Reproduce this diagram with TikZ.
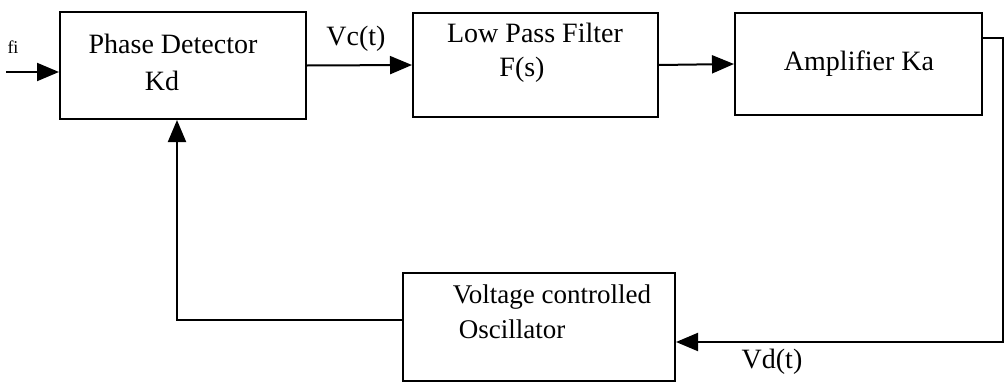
\documentclass[tikz,border=0pt]{standalone}
\usepackage{fontspec}
\setmainfont{Liberation Serif}
\usetikzlibrary{arrows.meta}
\begin{document}
\begin{tikzpicture}[x=1pt,y=-1pt,
  blk/.style={draw,line width=2pt,rectangle,inner sep=0pt},
  lbl/.style={inner sep=0pt,font=\fontsize{28}{30}\selectfont},
  wire/.style={line width=2pt},
  arr/.style={wire,-{Triangle[length=22pt,width=18pt]}}]
\useasboundingbox (0,0) rectangle (1005,383);
\node[blk,minimum width=246pt,minimum height=107pt] (pd) at (183,65.5) {};
\node[blk,minimum width=245pt,minimum height=104pt] (lpf) at (535.5,65) {};
\node[blk,minimum width=247pt,minimum height=102pt] (amp) at (858.5,64) {};
\node[blk,minimum width=272pt,minimum height=108pt] (vco) at (539,327) {};
\node[lbl] (t1) at (173,44) {Phase Detector};
\node[lbl] (t2) at (162,81) {Kd};
\node[lbl] (t3) at (535,33) {Low Pass Filter};
\node[lbl] (t4) at (522,70) {F(s)};
\node[lbl] (t5) at (859,64) {Amplifier Ka};
\node[lbl,font=\fontsize{27}{30}\selectfont] (t6) at (552,297) {Voltage controlled};
\node[lbl,font=\fontsize{27}{30}\selectfont] (t7) at (512,329) {Oscillator};
\node[lbl] (vc) at (356,39) {Vc(t)};
\node[lbl] (vd) at (772,362) {Vd(t)};
\node[inner sep=0pt,font=\fontsize{18}{20}\selectfont] (fi) at (13,47) {fi};
\coordinate (in) at (6,72);
\coordinate (c1) at (1003,38);
\coordinate (c2) at (1003,342);
\coordinate (c3) at (177,320);
\draw[arr] (in) -- (in -| pd.west);
\draw[arr] (pd.east) -- (lpf.west);
\draw[arr] (lpf.east) -- (amp.west);
\draw[arr] (amp.east |- c1) -- (c1) -- (c2) -- (vco.east |- c2);
\draw[arr] (vco.west |- c3) -- (c3) -- (c3 |- pd.south);
\end{tikzpicture}
\end{document}
